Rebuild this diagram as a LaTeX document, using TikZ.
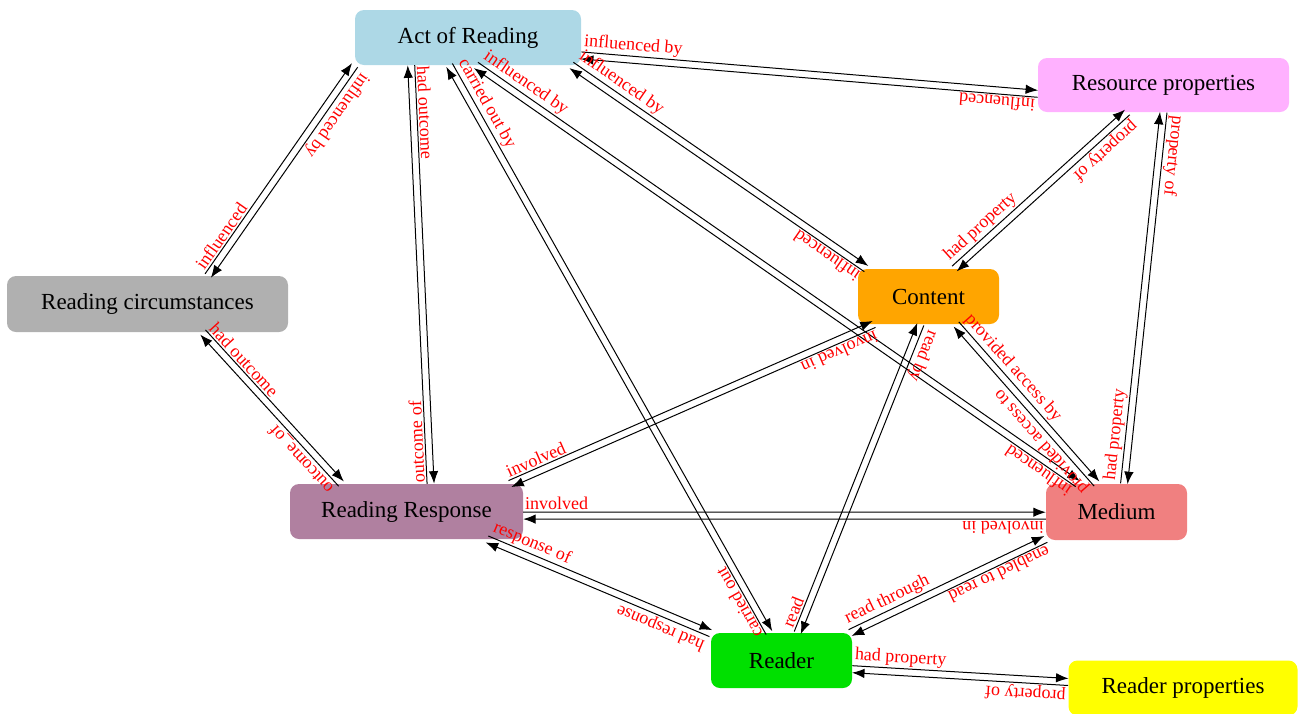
\documentclass[tikz,border=0pt]{standalone}
\usepackage{fontspec}
\setmainfont{Liberation Serif}
\usetikzlibrary{calc}
\usetikzlibrary{arrows.meta}

\definecolor{actblue}{HTML}{ADD8E6}
\definecolor{respink}{HTML}{FFB1FF}
\definecolor{circgray}{HTML}{B0B0B0}
\definecolor{contorange}{HTML}{FFA500}
\definecolor{rrmauve}{HTML}{B080A0}
\definecolor{medcoral}{HTML}{F08080}
\definecolor{readgreen}{HTML}{00E000}
\definecolor{rpyellow}{HTML}{FFFF00}

\tikzset{
  box/.style={rounded corners=9pt, minimum height=55pt, inner sep=0pt, font=\fontsize{23}{27}\selectfont},
  edge/.style={line width=1pt, -{Latex[length=12.5pt,width=9.5pt]}},
  lbl/.style={pos=0, sloped, allow upside down, anchor=south west, inner sep=1.5pt, text=red, font=\fontsize{18}{20}\selectfont},
}
\def\gap{3.5pt}
% one directed relation, shifted to the left of its direction
\newcommand\linkto[3]{\draw[edge] ($(#1)!\gap!90:(#2)$) -- node[lbl]{#3} ($(#2)!\gap!-90:(#1)$);}

\begin{document}
\begin{tikzpicture}[x=1pt,y=-1pt]
		\useasboundingbox (0,0) rectangle (1298,713);
		
		\node[box, fill=actblue, minimum width=226pt] (act) at (468,37.5) {Act of Reading};
		\node[box, fill=respink, minimum width=251pt, minimum height=54pt] (res) at (1163.5,85) {Resource properties};
		\node[box, fill=circgray, minimum width=281pt, minimum height=56pt] (rc) at (147.5,304) {Reading circumstances};
		\node[box, fill=contorange, minimum width=141pt] (content) at (928.5,296.5) {Content};
		\node[box, fill=rrmauve, minimum width=233pt] (rr) at (406.5,511.5) {Reading Response};
		\node[box, fill=medcoral, minimum width=141pt, minimum height=56pt] (med) at (1116.5,512) {Medium};
		\node[box, fill=readgreen, minimum width=141pt] (reader) at (781.5,660.5) {Reader};
		\node[box, fill=rpyellow, minimum width=229pt] (rp) at (1183,688) {Reader properties};
		
		\linkto{act.-9}{res.184}{influenced by}
		\linkto{res.184}{act.-9}{influenced}
		\linkto{act.south west}{rc.25}{influenced by}
		\linkto{rc.25}{act.south west}{influenced}
		\linkto{act.-154}{rr.49}{had outcome}
		\linkto{rr.49}{act.-154}{outcome of}
		\linkto{act.-124}{reader.114}{carried out by}
		\linkto{reader.114}{act.-124}{carried out}
		\linkto{act.-15}{content.156}{influenced by}
		\linkto{content.156}{act.-15}{influenced}
		\linkto{act.-74}{med.144}{influenced by}
		\linkto{med.144}{act.-74}{influenced}
		
		\linkto{res.-143}{content.47}{property of}
		\linkto{content.47}{res.-143}{had property}
		\linkto{res.south}{med.75}{property of}
		\linkto{med.75}{res.south}{had property}
		\linkto{content.-45}{med.125}{provided access by}
		\linkto{med.125}{content.-45}{provided access to}
		\linkto{content.-153}{rr.15}{involved in}
		\linkto{rr.15}{content.-153}{involved}
		\linkto{content.-106}{reader.60}{read by}
		\linkto{reader.60}{content.-106}{read}
		
		\linkto{rr.-2}{med.183}{involved}
		\linkto{med.183}{rr.-2}{involved in}
		\linkto{rr.-19}{reader.159}{response of}
		\linkto{reader.159}{rr.-19}{had response}
		\linkto{reader.22}{med.-159}{read through}
		\linkto{med.-159}{reader.22}{enabled to read}
		\linkto{reader.-7}{rp.177}{had property}
		\linkto{rp.177}{reader.-7}{property of}
		\linkto{rc.-27}{rr.157}{had outcome}
		\linkto{rr.157}{rc.-27}{outcome\_of}
\end{tikzpicture}
\end{document}
